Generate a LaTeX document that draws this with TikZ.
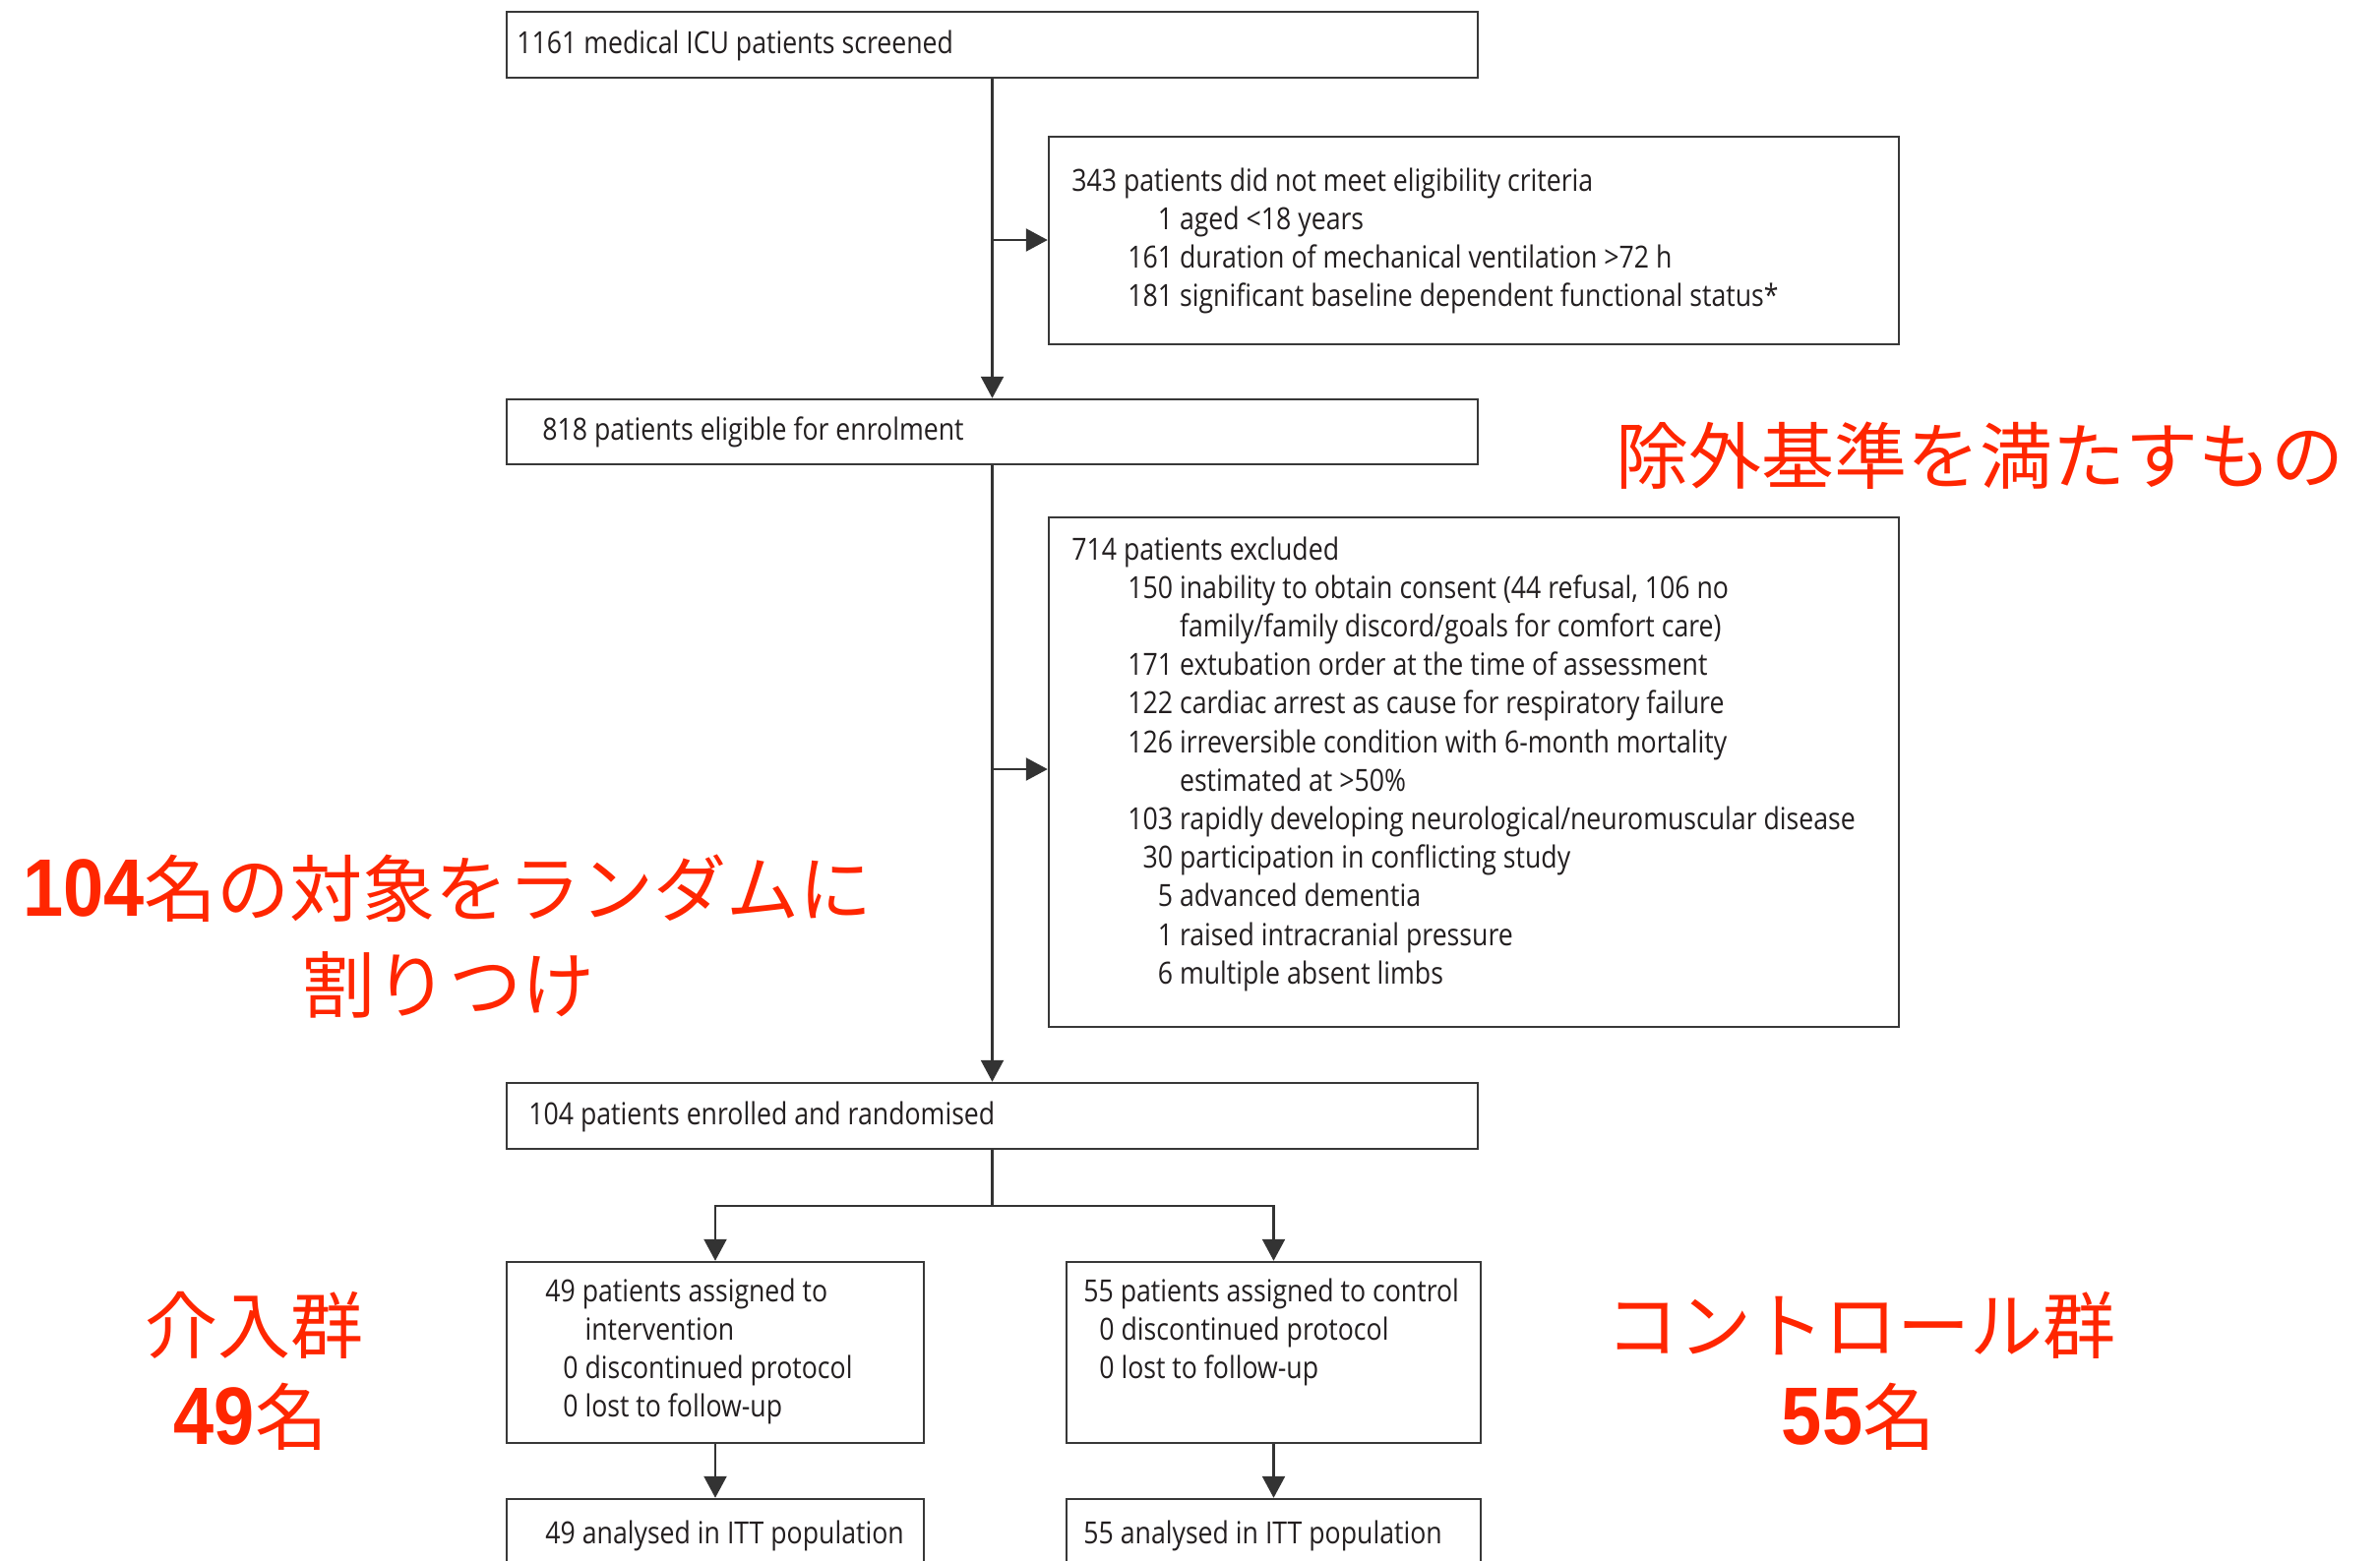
\documentclass[tikz,border=0pt]{standalone}
\usepackage{fontspec}
\usepackage{graphicx}
\setmainfont{Open Sans}[FakeStretch=0.86]
\newfontfamily\jpfont{Noto Sans CJK JP}
\newfontfamily\numfont{Liberation Sans}
\newcommand{\rednum}[1]{{\numfont\bfseries\scalebox{1}[1.12]{#1}}}
\usetikzlibrary{arrows.meta,fit}
\definecolor{jpred}{RGB}{255,38,0}
\definecolor{ink}{RGB}{35,31,32}
\begin{document}
\begin{tikzpicture}[x=0.5pt,y=-0.5pt,
  box/.style={draw=black!78, line width=1.25pt, inner sep=0pt},
  txt/.style={inner sep=0pt, anchor=base west, text=ink, font=\fontsize{15.5}{19.6}\selectfont},
  arr/.style={line width=1.2pt, draw=black!80, -{Triangle[length=11pt,width=11.5pt]}},
  ln/.style={line width=1.2pt, draw=black!80},
  redtxt/.style={text=jpred, inner sep=0pt, anchor=center, font=\jpfont\fontsize{37}{44}\selectfont}]
\useasboundingbox (0,0) rectangle (2419,1586);
\clip (0,0) rectangle (2419,1586);
\fill[white] (0,0) rectangle (2419,1586);

% boxes
\node[box, fit={(515,12) (1502,79)}] (b1) {};
\node[box, fit={(1066,139) (1930,350)}] (b343) {};
\node[box, fit={(515,406) (1502,472)}] (b818) {};
\node[box, fit={(1066,526) (1930,1044)}] (b714) {};
\node[box, fit={(515,1101) (1502,1168)}] (b104) {};
\node[box, fit={(515,1283) (939,1467)}] (b49) {};
\node[box, fit={(1084,1283) (1505,1467)}] (b55) {};
\node[box, fit={(515,1524) (939,1640)}] (b49a) {};
\node[box, fit={(1084,1524) (1505,1640)}] (b55a) {};

% texts
\node[txt] (t1) at (525,54) {1161 medical ICU patients screened};
\node[txt] (t343) at (1089,194) {\begin{tabular}[t]{@{}p{28.5pt}@{}r@{\ }l@{}}
\multicolumn{3}{@{}l@{}}{343 patients did not meet eligibility criteria}\\
 & 1 & aged <18 years\\
 & 161 & duration of mechanical ventilation >72 h\\
 & 181 & significant baseline dependent functional status*
\end{tabular}};
\node[txt] (t818) at (551,447) {818 patients eligible for enrolment};
\node[txt] (t714) at (1089,569) {\begin{tabular}[t]{@{}p{28.5pt}@{}r@{\ }l@{}}
\multicolumn{3}{@{}l@{}}{714 patients excluded}\\
 & 150 & inability to obtain consent (44 refusal, 106 no\\
 &  & family/family discord/goals for comfort care)\\
 & 171 & extubation order at the time of assessment\\
 & 122 & cardiac arrest as cause for respiratory failure\\
 & 126 & irreversible condition with 6-month mortality\\
 &  & estimated at >50\%\\
 & 103 & rapidly developing neurological/neuromuscular disease\\
 & 30 & participation in conflicting study\\
 & 5 & advanced dementia\\
 & 1 & raised intracranial pressure\\
 & 6 & multiple absent limbs
\end{tabular}};
\node[txt] (t104) at (537,1143) {104 patients enrolled and randomised};
\node[txt] (t49) at (554,1323) {\begin{tabular}[t]{@{}p{9pt}@{}r@{\ }l@{}}
\multicolumn{3}{@{}l@{}}{49 patients assigned to}\\
 &  & intervention\\
 & 0 & discontinued protocol\\
 & 0 & lost to follow-up
\end{tabular}};
\node[txt] (t55) at (1101,1323) {\begin{tabular}[t]{@{}p{8pt}@{}r@{\ }l@{}}
\multicolumn{3}{@{}l@{}}{55 patients assigned to control}\\
 & 0 & discontinued protocol\\
 & 0 & lost to follow-up
\end{tabular}};
\node[txt] (t49a) at (554,1569) {49 analysed in ITT population};
\node[txt] (t55a) at (1101,1569) {55 analysed in ITT population};

% connectors
\coordinate (j1) at (1008.5,244);
\coordinate (j2) at (1008.5,782);
\coordinate (j3) at (1008.5,1226);
\draw[arr] (b1.south) -- (b818.north);
\draw[arr] (j1) -- (j1 -| b343.west);
\draw[arr] (b818.south) -- (b104.north);
\draw[arr] (j2) -- (j2 -| b714.west);
\draw[ln] (b104.south) -- (j3);
\draw[arr] (j3) -| (b49.north);
\draw[arr] (j3) -| (b55.north);
\draw[arr] (b49.south) -- (b49a.north);
\draw[arr] (b55.south) -- (b55a.north);

% red annotations
\node[redtxt] (r1) at (2012,463) {除外基準を満たすもの};
\node[redtxt] (r2) at (455,903) {\rednum{104}名の対象をランダムに};
\node[redtxt] (r3) at (456,1001) {割りつけ};
\node[redtxt] (r4) at (258,1347) {介入群};
\node[redtxt] (r5) at (255,1440) {\rednum{49}名};
\node[redtxt] (r6) at (1891,1347) {コントロール群};
\node[redtxt] (r7) at (1889,1440) {\rednum{55}名};
\end{tikzpicture}
\end{document}
